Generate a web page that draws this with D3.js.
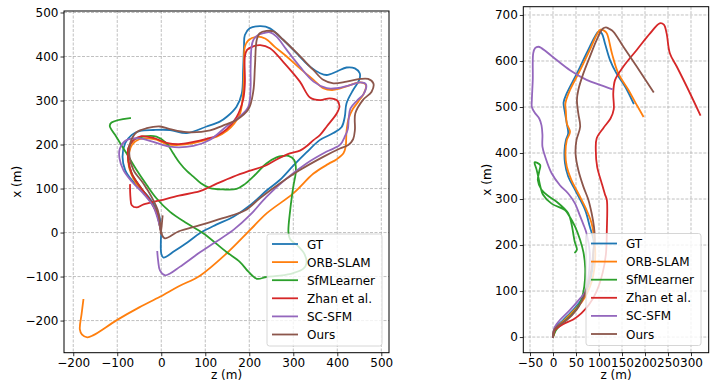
<!DOCTYPE html>
<html>
<head>
<meta charset="utf-8">
<script src="https://cdn.jsdelivr.net/npm/d3@7"></script>
<style>
    body { margin: 0; background: #fff; }
    svg { display: block; font-family: "DejaVu Sans", sans-serif; }
</style>
</head>
<body>
<svg id="chart" width="716" height="381"></svg>
<script>
// Series shared by both panels
const seriesNames = ['GT', 'ORB-SLAM', 'SfMLearner', 'Zhan et al.', 'SC-SFM', 'Ours'];
const seriesColors = ['#1f77b4', '#ff7f0e', '#2ca02c', '#d62728', '#9467bd', '#8c564b'];

// Left panel trajectories, [z, x] in metres
const gtLeft = [[0,0],[-1,-25],[0,-48],[5,-57],[30,-42],[60,-22],[90,0],[125,18],[164,36],[202,62],[240,96],[270,120],[300,152],[330,182],[360,210],[391,226],[410,240],[417,263],[421,294],[436,324],[450,347],[451,362],[440,373],[421,375],[399,366],[376,358],[361,362],[338,377],[308,407],[277,438],[247,464],[226,469],[201,464],[190,449],[188,422],[186,369],[183,316],[171,286],[149,263],[133,252],[103,241],[58,226],[20,233],[-18,233],[-48,231],[-67,222],[-82,203],[-88,172],[-82,142],[-67,119],[-48,100],[-29,81],[-14,59],[-4,36],[-1,12],[0,0]];
const orbLeft = [[0,0],[-3,18],[-9,42],[-20,64],[-38,88],[-56,110],[-69,135],[-75,160],[-73,182],[-66,200],[-50,212],[-30,214],[-11,211],[12,201],[40,199],[73,203],[100,210],[126,218],[150,232],[166,248],[179,270],[186,316],[188,369],[190,422],[198,437],[217,445],[236,441],[258,422],[285,400],[315,373],[346,347],[368,328],[391,324],[421,332],[452,341],[465,335],[460,315],[448,298],[435,280],[426,260],[421,230],[419,195],[414,180],[398,166],[380,156],[346,134],[300,89],[240,44],[202,6],[149,-47],[88,-98],[40,-122],[-3,-146],[-50,-170],[-101,-199],[-154,-233],[-168,-238],[-180,-232],[-185,-220],[-181,-185],[-177,-153]];
const sfmLeft = [[0,0],[-3,13],[-10,43],[-26,74],[-48,104],[-67,134],[-75,165],[-75,191],[-63,210],[-41,218],[-11,218],[12,203],[27,180],[42,158],[58,140],[73,127],[90,112],[111,101],[140,98],[171,99],[190,110],[209,127],[239,157],[262,171],[277,174],[289,174],[302,165],[306,142],[300,104],[293,51],[289,0],[293,-15],[310,-30],[326,-50],[330,-70],[323,-82],[300,-92],[270,-98],[239,-101],[217,-105],[198,-89],[179,-67],[148,-44],[96,-2],[58,21],[20,47],[-11,78],[-33,108],[-56,142],[-79,180],[-105,222],[-117,242],[-113,250],[-71,260]];
const zhanLeft = [[0,0],[-3,13],[-10,43],[-26,74],[-48,104],[-67,134],[-75,165],[-75,191],[-63,210],[-45,219],[-18,215],[12,204],[40,201],[73,206],[103,213],[126,220],[149,235],[171,262],[186,302],[190,339],[190,400],[195,415],[209,423],[225,426],[247,419],[277,388],[315,343],[338,307],[361,301],[383,305],[400,300],[405,287],[399,271],[376,241],[361,222],[346,210],[330,196],[315,186],[292,180],[260,165],[239,153],[200,140],[164,127],[126,111],[88,94],[40,84],[-3,73],[-40,64],[-56,57],[-67,62],[-70,80],[-71,108]];
const scLeft = [[0,0],[-3,14],[-7,28],[-18,59],[-41,89],[-67,116],[-86,142],[-95,169],[-94,191],[-79,210],[-48,214],[-18,206],[20,195],[73,197],[111,211],[148,241],[179,264],[198,286],[203,330],[203,369],[205,420],[209,437],[220,449],[232,453],[247,455],[262,445],[285,415],[315,377],[346,343],[376,328],[399,328],[429,335],[452,341],[465,337],[460,315],[445,300],[430,282],[426,260],[424,235],[418,220],[406,199],[376,184],[330,157],[285,123],[239,81],[202,40],[164,6],[118,-25],[88,-45],[42,-78],[20,-93],[8,-97],[-3,-86],[-7,-65],[-9,-44]];
const oursLeft = [[3,37],[1,15],[0,0],[8,-13],[40,3],[88,17],[140,33],[190,50],[224,78],[270,112],[315,142],[368,172],[406,191],[425,199],[436,212],[440,233],[441,271],[459,302],[478,320],[482,339],[470,349],[452,349],[421,343],[391,339],[368,347],[345,370],[308,408],[277,438],[255,457],[239,458],[224,453],[217,438],[213,380],[209,320],[198,280],[171,256],[140,243],[111,232],[58,228],[20,235],[-3,241],[-33,237],[-56,228],[-70,205],[-72,172],[-63,142],[-41,112],[-22,81],[-8,51],[-3,21],[-1,-2]];

// Right panel trajectories, [z, x] in metres
const gtRight = [[0,0],[2,8],[4,19],[22,37],[44,59],[59,77],[70,95],[80,120],[86,150],[88,180],[88,211],[80,240],[70,276],[48,320],[33,349],[26,378],[25,406],[28,428],[33,443],[30,464],[25,493],[23,510],[30,530],[52,573],[73,617],[91,653],[99,664],[106,660],[113,638],[124,602],[138,573],[157,544],[175,508]];
const orbRight = [[0,0],[3,8],[6,19],[25,37],[47,59],[63,77],[74,95],[84,120],[90,150],[92,180],[90,211],[84,247],[73,276],[55,312],[40,341],[30,370],[27,399],[30,428],[37,446],[30,464],[28,490],[27,508],[37,537],[59,580],[80,624],[95,657],[103,668],[111,666],[117,660],[128,617],[142,573],[164,537],[180,508],[196,480]];
const sfmRight = [[0,0],[6,14],[20,30],[38,46],[52,62],[62,82],[68,110],[70,150],[66,185],[59,211],[48,240],[36,262],[26,276],[-3,290],[-22,310],[-27,325],[-32,348],[-36,365],[-40,380],[-28,374],[-30,360],[-33,341],[-25,320],[-8,305],[8,294],[33,269],[40,247],[44,225],[47,208],[52,190],[48,184]];
const zhanRight = [[0,0],[4,15],[22,28],[44,38],[62,52],[78,70],[95,100],[108,140],[115,180],[117,232],[117,298],[113,310],[106,334],[96,370],[93,406],[95,432],[110,455],[125,475],[132,495],[131,530],[135,559],[153,588],[182,624],[211,660],[232,682],[241,679],[247,660],[254,617],[269,588],[291,544],[320,483]];
const scRight = [[0,0],[1,12],[4,22],[15,37],[37,59],[59,84],[70,98],[77,130],[80,182],[73,225],[66,245],[58,265],[48,290],[33,312],[15,330],[-3,356],[-17,392],[-23,414],[-23,440],[-25,460],[-30,475],[-40,488],[-46,500],[-46,515],[-44,560],[-43,617],[-39,628],[-32,631],[-25,628],[8,602],[37,580],[73,559],[102,548],[128,539]];
const oursRight = [[0,0],[1,12],[8,22],[30,37],[51,59],[62,77],[75,110],[84,150],[88,190],[91,211],[89,240],[84,269],[77,298],[66,327],[55,363],[49,399],[51,428],[59,457],[55,486],[52,515],[55,537],[66,573],[80,609],[95,646],[108,670],[115,673],[122,670],[131,664],[153,631],[182,588],[218,533]];

// Tick labels
const leftZTicks = [-200, -100, 0, 100, 200, 300, 400, 500];
const leftXTicks = [-200, -100, 0, 100, 200, 300, 400, 500];
const rightZTicks = [-50, 0, 50, 100, 150, 200, 250, 300];
const rightXTicks = [0, 100, 200, 300, 400, 500, 600, 700];

const TrajectoryChart = {
    svg: null,

    init() {
        this.svg = d3.select('#chart');

        this.drawPanel({
            id: 'left',
            series: [gtLeft, orbLeft, sfmLeft, zhanLeft, scLeft, oursLeft],
            zDomain: [-221, 517.5], xDomain: [-273, 503.4],
            left: 64, right: 389, top: 11, bottom: 352.7,
            zTicks: leftZTicks, xTicks: leftXTicks,
            yLabelX: 21,
            legend: { x: 267, y: 234, w: 115, h: 112 }
        });

        this.drawPanel({
            id: 'right',
            series: [gtRight, orbRight, sfmRight, zhanRight, scRight, oursRight],
            zDomain: [-64.6, 338.5], xDomain: [-34, 718],
            left: 523.3, right: 708.7, top: 6.7, bottom: 352.7,
            zTicks: rightZTicks, xTicks: rightXTicks,
            yLabelX: 491,
            legend: { x: 586, y: 233.5, w: 115, h: 112 }
        });
    },

    drawPanel(cfg) {
        const svg = this.svg;
        const g = svg.append('g').attr('class', `panel-${cfg.id}`);

        const zScale = d3.scaleLinear().domain(cfg.zDomain).range([cfg.left, cfg.right]);
        const xScale = d3.scaleLinear().domain(cfg.xDomain).range([cfg.bottom, cfg.top]);

        // Clip trajectories to the axes box
        svg.append('clipPath').attr('id', `clip-${cfg.id}`)
            .append('rect')
            .attr('x', cfg.left).attr('y', cfg.top)
            .attr('width', cfg.right - cfg.left).attr('height', cfg.bottom - cfg.top);

        // Dashed grid
        const grid = g.append('g').attr('stroke', '#b0b0b0').attr('stroke-width', 0.8)
            .attr('stroke-dasharray', '3,1.5');
        grid.selectAll('.vgrid').data(cfg.zTicks).join('line')
            .attr('x1', d => zScale(d)).attr('x2', d => zScale(d))
            .attr('y1', cfg.top).attr('y2', cfg.bottom);
        grid.selectAll('.hgrid').data(cfg.xTicks).join('line')
            .attr('x1', cfg.left).attr('x2', cfg.right)
            .attr('y1', d => xScale(d)).attr('y2', d => xScale(d));

        // Trajectories
        const line = d3.line()
            .x(d => zScale(d[0]))
            .y(d => xScale(d[1]))
            .curve(d3.curveCatmullRom.alpha(0.5));

        g.append('g').attr('clip-path', `url(#clip-${cfg.id})`)
            .selectAll('path')
            .data(cfg.series)
            .join('path')
            .attr('d', line)
            .attr('fill', 'none')
            .attr('stroke', (d, i) => seriesColors[i])
            .attr('stroke-width', 1.8)
            .attr('stroke-linejoin', 'round')
            .attr('stroke-linecap', 'square');

        // Axes
        const fmt = d3.format('d');
        const bottomAxis = g.append('g')
            .attr('transform', `translate(0,${cfg.bottom})`)
            .call(d3.axisBottom(zScale).tickValues(cfg.zTicks).tickFormat(fmt).tickSize(3.5).tickPadding(2));
        const leftAxis = g.append('g')
            .attr('transform', `translate(${cfg.left},0)`)
            .call(d3.axisLeft(xScale).tickValues(cfg.xTicks).tickFormat(fmt).tickSize(3.5).tickPadding(2));

        [bottomAxis, leftAxis].forEach(ax => {
            ax.select('.domain').remove();
            ax.selectAll('line').attr('stroke', '#000').attr('stroke-width', 0.8);
            ax.selectAll('text')
                .attr('fill', '#000')
                .style('font-size', '12px')
                .style('font-family', '"DejaVu Sans", sans-serif');
        });

        // Spines
        g.append('rect')
            .attr('x', cfg.left).attr('y', cfg.top)
            .attr('width', cfg.right - cfg.left).attr('height', cfg.bottom - cfg.top)
            .attr('fill', 'none').attr('stroke', '#000').attr('stroke-width', 1);

        // Axis labels (bottom one sits at the picture edge, as in the source)
        g.append('text')
            .attr('x', (cfg.left + cfg.right) / 2).attr('y', 379)
            .attr('text-anchor', 'middle').style('font-size', '12px')
            .text('z (m)');
        g.append('text')
            .attr('transform', `translate(${cfg.yLabelX},${(cfg.top + cfg.bottom) / 2}) rotate(-90)`)
            .attr('text-anchor', 'middle').style('font-size', '12px')
            .text('x (m)');

        this.drawLegend(g, cfg.legend);
    },

    drawLegend(g, box) {
        const legend = g.append('g').attr('class', 'legend');

        legend.append('rect')
            .attr('x', box.x).attr('y', box.y)
            .attr('width', box.w).attr('height', box.h)
            .attr('rx', 2.5)
            .attr('fill', '#fff').attr('fill-opacity', 0.8)
            .attr('stroke', '#cccccc').attr('stroke-width', 0.8);

        const rowHeight = 18.1;
        const firstRow = box.y + 10;

        const rows = legend.selectAll('.legend-row')
            .data(seriesNames)
            .join('g')
            .attr('class', 'legend-row')
            .attr('transform', (d, i) => `translate(${box.x},${firstRow + i * rowHeight})`);

        rows.append('line')
            .attr('x1', 5).attr('x2', 31)
            .attr('stroke', (d, i) => seriesColors[i])
            .attr('stroke-width', 1.8);

        rows.append('text')
            .attr('x', 40).attr('y', 4.5)
            .style('font-size', '12px')
            .attr('fill', '#000')
            .text(d => d);
    }
};

TrajectoryChart.init();
</script>
</body>
</html>
